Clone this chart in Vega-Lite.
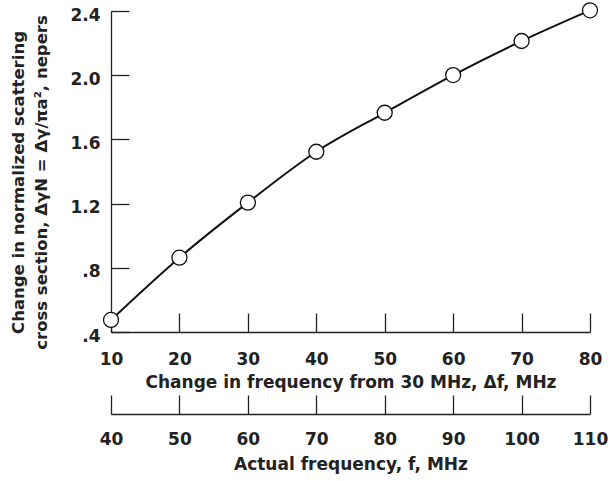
{
  "$schema": "https://vega.github.io/schema/vega-lite/v6.json",
  "width": 479,
  "height": 321,
  "autosize": {"type": "none"},
  "padding": {"left": 111, "top": 11, "right": 20, "bottom": 149},
  "background": "white",
  "config": {
    "view": {"stroke": null},
    "font": "DejaVu Sans",
    "axis": {
      "grid": false,
      "domainColor": "#222",
      "tickColor": "#222",
      "labelColor": "#222",
      "titleColor": "#222",
      "labelFont": "DejaVu Sans",
      "titleFont": "DejaVu Sans",
      "labelFontWeight": "bold",
      "titleFontWeight": "bold",
      "labelFontSize": 17,
      "titleFontSize": 17,
      "domainWidth": 1.3,
      "tickWidth": 1.3
    }
  },
  "datasets": {
    "meas": [
      {"df": 10, "gamma": 0.475},
      {"df": 20, "gamma": 0.863},
      {"df": 30, "gamma": 1.206},
      {"df": 40, "gamma": 1.523},
      {"df": 50, "gamma": 1.766},
      {"df": 60, "gamma": 2.001},
      {"df": 70, "gamma": 2.213},
      {"df": 80, "gamma": 2.404}
    ],
    "actual": [
      {"f": 40}, {"f": 110}
    ]
  },
  "layer": [
    {
      "data": {"name": "meas"},
      "encoding": {
        "x": {
          "field": "df", "type": "quantitative",
          "scale": {"domain": [10, 80], "nice": false, "zero": false},
          "axis": {
            "orient": "bottom",
            "values": [10, 20, 30, 40, 50, 60, 70, 80],
            "tickSize": -19,
            "labelPadding": 51,
            "labelBaseline": "alphabetic",
            "labelFlush": false,
            "title": "Change in frequency from 30 MHz, Δf, MHz",
            "titleBaseline": "alphabetic",
            "titleX": 239.5,
            "titleY": 55,
            "titleAnchor": "middle"
          }
        },
        "y": {
          "field": "gamma", "type": "quantitative",
          "scale": {"domain": [0.4, 2.4], "nice": false, "zero": false},
          "axis": {
            "values": [0.4, 0.8, 1.2, 1.6, 2.0, 2.4],
            "labelExpr": "datum.value < 1 ? replace(format(datum.value, '.1f'), '0.', '.') : format(datum.value, '.1f')",
            "tickSize": -18,
            "labelPadding": 29,
            "labelOffset": 4,
            "labelFlush": false,
            "title": ["Change in normalized scattering", "cross section, ΔγN = Δγ/πa², nepers"],
            "titleFontSize": 16.5,
            "titleAngle": -90,
            "titleAlign": "center",
            "titleBaseline": "alphabetic",
            "titleLineHeight": 23,
            "titleX": -88,
            "titleY": 171
          }
        }
      },
      "layer": [
        {
          "mark": {"type": "line", "interpolate": "monotone", "color": "#111", "strokeWidth": 2}
        },
        {
          "mark": {"type": "point", "shape": "circle", "filled": true, "fill": "white", "stroke": "#111", "strokeWidth": 1.3, "size": 225, "opacity": 1}
        }
      ]
    },
    {
      "data": {"name": "actual"},
      "mark": {"type": "point", "opacity": 0},
      "encoding": {
        "x": {
          "field": "f", "type": "quantitative",
          "scale": {"domain": [40, 110], "nice": false, "zero": false},
          "axis": {
            "orient": "bottom",
            "offset": 82,
            "values": [40, 50, 60, 70, 80, 90, 100, 110],
            "tickSize": -19,
            "labelPadding": 49.5,
            "labelBaseline": "alphabetic",
            "labelFlush": false,
            "title": "Actual frequency, f, MHz",
            "titleBaseline": "alphabetic",
            "titleX": 239.5,
            "titleY": 55,
            "titleAnchor": "middle"
          }
        }
      }
    }
  ],
  "resolve": {"scale": {"x": "independent"}, "axis": {"x": "independent"}}
}
